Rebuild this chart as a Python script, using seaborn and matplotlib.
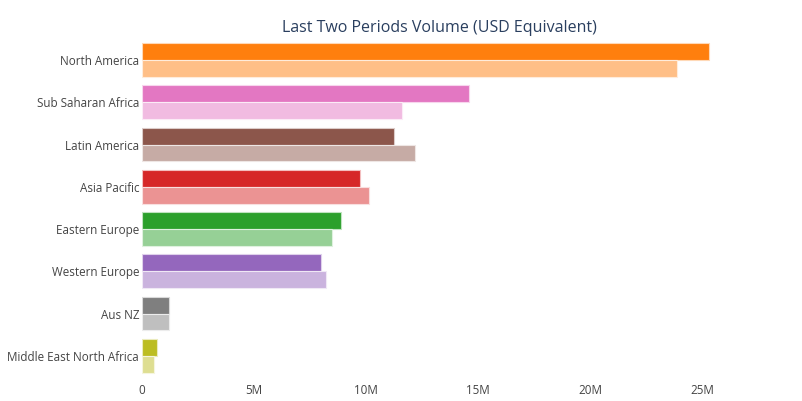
import matplotlib
matplotlib.use("Agg")
import matplotlib.pyplot as plt
import seaborn as sns
import pandas as pd
from matplotlib.ticker import FuncFormatter
from matplotlib.colors import to_rgb

# Datos (millones USD)
regions = ["North America", "Sub Saharan Africa", "Latin America", "Asia Pacific",
           "Eastern Europe", "Western Europe", "Aus NZ", "Middle East North Africa"]
current = [25.3, 14.6, 11.25, 9.75, 8.9, 8.0, 1.22, 0.67]
previous = [23.9, 11.6, 12.2, 10.15, 8.5, 8.2, 1.19, 0.54]
periods = ["Current", "Previous"]

region_colors = ["#ff7f0e", "#e377c2", "#8c564b", "#d62728",
                 "#2ca02c", "#9467bd", "#7f7f7f", "#bcbd22"]


def lighten(c, a=0.5):
    r, g, b = to_rgb(c)
    return (1 - a + a * r, 1 - a + a * g, 1 - a + a * b)


light_colors = [lighten(c) for c in region_colors]

df = pd.DataFrame({
    "Region": regions * 2,
    "Volume": [v * 1e6 for v in current + previous],
    "Period": [periods[0]] * len(regions) + [periods[1]] * len(regions),
})

sns.set_style("white")
plt.rcParams["font.family"] = ["Open Sans", "DejaVu Sans"]

fig = plt.figure(figsize=(8.02, 4.01), dpi=100)
ax = fig.add_axes([0.177, 0.060, 0.743, 0.843])

sns.barplot(data=df, y="Region", x="Volume", hue="Period", order=regions,
            hue_order=periods, orient="h", width=0.8, legend=False, ax=ax)

# Colorear cada barra segun la region
for container, cols in zip(ax.containers, [region_colors, light_colors]):
    for patch, col in zip(container, cols):
        patch.set_facecolor(col)
        patch.set_edgecolor(lighten(col, 0.3))
        patch.set_linewidth(0.8)

ax.set_xlim(0, 26.6e6)
ax.set_xticks([0, 5e6, 10e6, 15e6, 20e6, 25e6])
ax.xaxis.set_major_formatter(FuncFormatter(lambda v, p: "0" if v == 0 else f"{v/1e6:.0f}M"))
ax.tick_params(axis="both", length=0, labelsize=8.4, colors="#444444")
ax.tick_params(axis="x", pad=5)
ax.tick_params(axis="y", pad=2)
ax.set_xlabel("")
ax.set_ylabel("")
for s in ax.spines.values():
    s.set_visible(False)
ax.grid(False)

ax.set_title("Last Two Periods Volume (USD Equivalent)", fontsize=11.5,
             color="#2a3f5f", pad=5)

plt.savefig("out.png", dpi=100)
